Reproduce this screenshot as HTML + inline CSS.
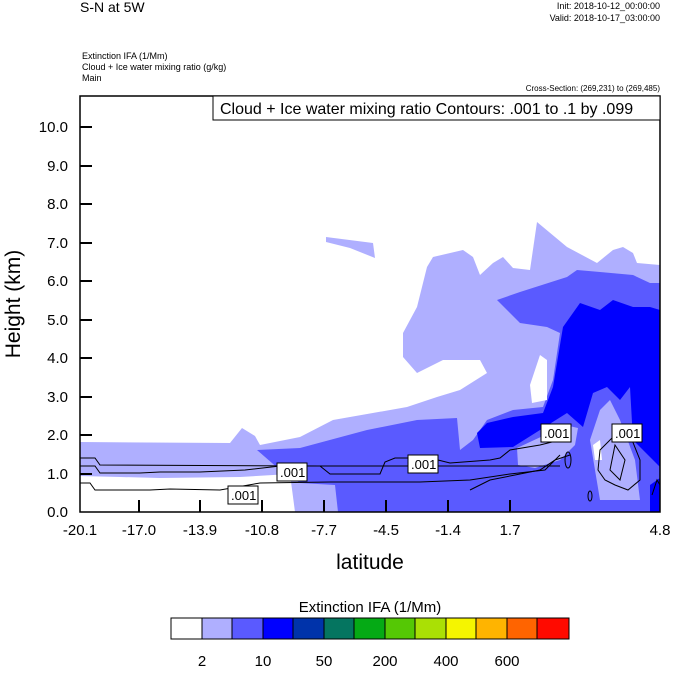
<!DOCTYPE html>
<html><head><style>
body{margin:0;background:#fff;width:674px;height:668px;overflow:hidden;font-family:"Liberation Sans",sans-serif}
</style></head><body>
<svg width="674" height="668" xmlns="http://www.w3.org/2000/svg" font-family="Liberation Sans, sans-serif">
<defs><clipPath id="c"><rect x="80" y="96" width="580" height="416"/></clipPath></defs>
<text x="80" y="12" font-size="14">S-N at 5W</text>
<text x="660" y="9" font-size="9" text-anchor="end">Init: 2018-10-12_00:00:00</text>
<text x="660" y="21" font-size="9" text-anchor="end">Valid: 2018-10-17_03:00:00</text>
<text x="82" y="59" font-size="9">Extinction IFA   (1/Mm)</text>
<text x="82" y="70" font-size="9">Cloud + Ice water mixing ratio   (g/kg)</text>
<text x="82" y="81" font-size="9">Main</text>
<text x="660" y="91" font-size="8" text-anchor="end">Cross-Section: (269,231) to (269,485)</text>
<g clip-path="url(#c)">
<path fill="#afafff" d="M80 442 L230 443 L242 428 L255 436 L260 445 L300 437 L333 420 L407 407 L437 397 L460 390 L487 373 L480 360 L443 360 L417 373 L403 357 L403 333 L417 307 L427 267 L433 257 L463 250 L473 257 L480 275 L493 263 L503 257 L513 268 L530 270 L537 222 L567 247 L597 263 L613 250 L623 247 L633 253 L637 263 L660 265 L660 512 L80 512Z"/>
<path fill="#afafff" d="M326 237 L373 243 L375 258 L350 248 L326 242Z"/>
<path fill="#fff" d="M80 476 L120 477 L160 478 L240 477 L290 474 L295 512 L80 512Z"/>
<path fill="#5a5aff" d="M257 450 L300 448 L367 430 L417 420 L457 418 L460 450 L473 440 L487 420 L513 410 L543 407 L553 380 L560 333 L547 327 L520 323 L497 300 L520 292 L567 277 L577 270 L600 272 L633 275 L650 283 L660 283 L660 512 L338 512 L335 485 L300 483 L280 470 Z"/>
<path fill="#fff" d="M540 355 L547 360 L547 400 L532 403 L530 385 Z"/>
<path fill="#0000ff" d="M477 433 L487 423 L513 417 L543 413 L553 387 L563 327 L580 303 L600 310 L613 300 L633 307 L650 307 L660 310 L660 467 L633 440 L630 387 L620 400 L607 387 L593 393 L583 427 L567 413 L540 430 L513 447 L480 448Z"/>
<path fill="#0000ff" d="M650 485 L660 478 L660 512 L650 512Z"/>
<path fill="#afafff" d="M517 448 L545 435 L565 425 L578 428 L575 445 L560 460 L535 468 L518 465Z"/>
<path fill="#afafff" d="M590 440 L600 410 L610 400 L620 420 L635 460 L640 500 L600 500 L595 470Z"/>
<path fill="#fff" d="M593 445 L600 440 L602 460 L595 460Z"/>
</g>
<g fill="none" stroke="#000" stroke-width="1" clip-path="url(#c)">
<path d="M80 466 L95 466 L100 473 L140 473 L160 472 L200 472 L245 470 L280 466 L300 466 L350 466 L560 466"/>
<path d="M80 483 L90 483 L95 490 L150 490 L170 489 L220 490 L260 483 L330 482 L420 482 L470 480 L510 474 L545 470 L560 455"/>
<path d="M80 458 L95 458 L100 465 L320 466 L330 474 L380 474 L385 462 L395 458 L430 458 L450 463 L490 460 L500 458 L510 450 L540 445 L560 440"/>
<path d="M470 490 L490 480 L515 475 L540 470 L555 460 L570 455"/>
<path d="M598 470 L600 450 L610 440 L620 430 L632 440 L640 460 L640 480 L628 490 L615 485 L605 480Z"/>
<path d="M610 470 L615 445 L625 460 L620 480Z"/>
<path d="M652 495 L657 480 L660 485"/>
<ellipse cx="568" cy="460" rx="3" ry="8"/>
<ellipse cx="590" cy="496" rx="2" ry="5"/>
</g>
<g font-size="13" font-family="Liberation Sans, sans-serif">
<rect x="228" y="486" width="30" height="18" fill="#fff" stroke="#000"/><text x="231" y="500">.001</text>
<rect x="277" y="463" width="30" height="18" fill="#fff" stroke="#000"/><text x="280" y="477">.001</text>
<rect x="408" y="455" width="30" height="18" fill="#fff" stroke="#000"/><text x="411" y="469">.001</text>
<rect x="541" y="424" width="30" height="18" fill="#fff" stroke="#000"/><text x="544" y="438">.001</text>
<rect x="612" y="424" width="30" height="18" fill="#fff" stroke="#000"/><text x="615" y="438">.001</text>
</g>
<rect x="80" y="96" width="580" height="416" fill="none" stroke="#000" stroke-width="1.5"/>
<rect x="213" y="96" width="447" height="24" fill="#fff" stroke="#000"/>
<text x="220" y="114" font-size="16">Cloud + Ice water mixing ratio Contours: .001 to .1 by .099</text>
<g stroke="#000" stroke-width="2">
<path d="M80 127h12M80 166h12M80 204h12M80 243h12M80 281h12M80 320h12M80 358h12M80 397h12M80 435h12M80 474h12"/>
<path d="M139 512v-12M200 512v-12M262 512v-12M324 512v-12M386 512v-12M448 512v-12M510 512v-12"/>
</g>
<g font-size="15" text-anchor="end">
<text x="68" y="132">10.0</text><text x="68" y="171">9.0</text><text x="68" y="209">8.0</text><text x="68" y="248">7.0</text><text x="68" y="286">6.0</text><text x="68" y="325">5.0</text><text x="68" y="363">4.0</text><text x="68" y="402">3.0</text><text x="68" y="440">2.0</text><text x="68" y="479">1.0</text><text x="68" y="517">0.0</text>
</g>
<g font-size="15" text-anchor="middle">
<text x="80" y="535">-20.1</text><text x="139" y="535">-17.0</text><text x="200" y="535">-13.9</text><text x="262" y="535">-10.8</text><text x="324" y="535">-7.7</text><text x="386" y="535">-4.5</text><text x="448" y="535">-1.4</text><text x="510" y="535">1.7</text><text x="660" y="535">4.8</text>
</g>
<text x="370" y="569" font-size="21" text-anchor="middle">latitude</text>
<text transform="translate(20 304) rotate(-90)" font-size="21" text-anchor="middle">Height (km)</text>
<text x="370" y="612" font-size="15" text-anchor="middle">Extinction IFA  (1/Mm)</text>
<g stroke="#000" stroke-width="1">
<rect x="171" y="618" width="31" height="21" fill="#fff"/>
<rect x="202" y="618" width="30" height="21" fill="#afafff"/>
<rect x="232" y="618" width="31" height="21" fill="#5a5aff"/>
<rect x="263" y="618" width="30" height="21" fill="#0000ff"/>
<rect x="293" y="618" width="31" height="21" fill="#0033aa"/>
<rect x="324" y="618" width="30" height="21" fill="#057560"/>
<rect x="354" y="618" width="31" height="21" fill="#05aa15"/>
<rect x="385" y="618" width="30" height="21" fill="#55c805"/>
<rect x="415" y="618" width="31" height="21" fill="#aae005"/>
<rect x="446" y="618" width="30" height="21" fill="#f5f500"/>
<rect x="476" y="618" width="31" height="21" fill="#ffb400"/>
<rect x="507" y="618" width="30" height="21" fill="#ff6400"/>
<rect x="537" y="618" width="32" height="21" fill="#ff0a00"/>
</g>
<g font-size="15" text-anchor="middle">
<text x="202" y="666">2</text><text x="263" y="666">10</text><text x="324" y="666">50</text><text x="385" y="666">200</text><text x="446" y="666">400</text><text x="507" y="666">600</text>
</g>
</svg>
</body></html>
